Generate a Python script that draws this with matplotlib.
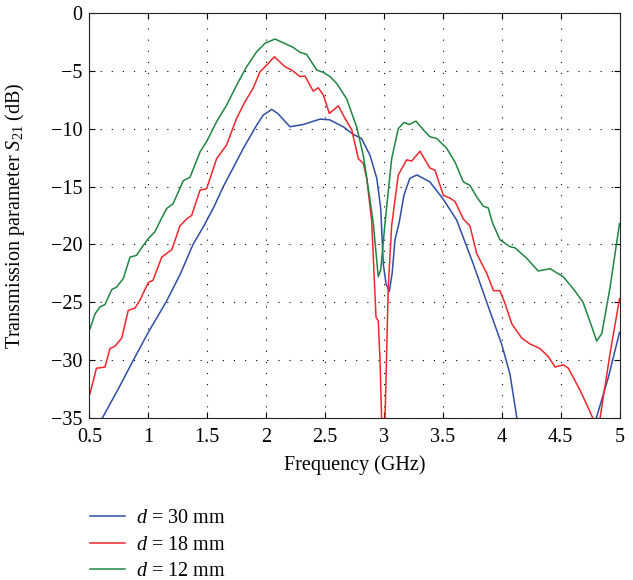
import matplotlib
matplotlib.use("Agg")
import matplotlib.pyplot as plt

plt.rcParams['font.family'] = ['Liberation Serif', 'DejaVu Serif']
plt.rcParams['mathtext.fontset'] = 'custom'
plt.rcParams['mathtext.rm'] = 'Liberation Serif'
plt.rcParams['mathtext.it'] = 'Liberation Serif:italic'

# ---- data (frequency in GHz, S21 in dB) ----
f_30 = [0.50, 0.61, 0.75, 0.873, 1.0, 1.15, 1.27, 1.38, 1.475, 1.56, 1.637, 1.72, 1.807,
        1.92, 1.976, 2.048, 2.10, 2.203, 2.316, 2.458, 2.54, 2.655, 2.74, 2.81, 2.882,
        2.94, 2.973, 2.995, 3.018, 3.046, 3.07, 3.094, 3.13, 3.17, 3.22, 3.28, 3.39,
        3.50, 3.618, 3.759, 3.873, 3.999, 4.07, 4.127, 4.16, 4.77, 4.806, 4.905, 5.0]
s_30 = [-37.1, -35.0, -32.4, -30.0, -27.6, -25.0, -22.6, -20.0, -18.35, -16.7, -15.0, -13.4, -11.7,
        -9.7, -8.83, -8.34, -8.7, -9.84, -9.64, -9.18, -9.24, -9.84, -10.5, -10.85, -12.3,
        -14.3, -16.9, -21.7, -23.4, -24.06, -22.5, -19.6, -18.1, -15.75, -14.3, -14.0, -14.6,
        -16.04, -17.9, -21.7, -25.0, -28.6, -31.2, -34.9, -37.0, -37.0, -34.9, -31.5, -27.6]

f_18 = [0.505, 0.56, 0.632, 0.675, 0.717, 0.774, 0.83, 0.887, 0.93, 1.0, 1.04, 1.114, 1.2,
        1.269, 1.326, 1.368, 1.44, 1.495, 1.58, 1.665, 1.75, 1.82, 1.89, 1.948, 2.019,
        2.07, 2.16, 2.217, 2.288, 2.33, 2.40, 2.443, 2.486, 2.537, 2.613, 2.67, 2.727,
        2.783, 2.825, 2.854, 2.896, 2.933, 2.952, 2.967, 2.98, 2.992, 3.002, 3.01, 3.037,
        3.066, 3.122, 3.193, 3.236, 3.306, 3.39, 3.434, 3.504, 3.56, 3.604, 3.674, 3.73,
        3.788, 3.873, 3.93, 3.985, 4.028, 4.085, 4.17, 4.24, 4.325, 4.396, 4.453, 4.523,
        4.566, 4.665, 4.72, 4.773, 4.80, 4.835, 4.92, 5.0]
s_18 = [-32.9, -30.7, -30.6, -29.0, -28.8, -28.1, -25.7, -25.5, -24.8, -23.3, -23.1, -21.1, -20.45,
        -18.4, -17.8, -17.5, -15.3, -15.2, -12.6, -11.4, -9.1, -7.7, -6.5, -5.1, -4.36,
        -3.79, -4.65, -4.94, -5.5, -5.46, -6.76, -6.47, -7.1, -8.69, -8.03, -9.12, -10.1,
        -12.6, -13.0, -14.3, -17.9, -26.3, -26.6, -30.0, -34.9, -40.0, -40.0, -34.9, -23.7,
        -18.35, -14.0, -12.7, -12.8, -11.95, -13.4, -13.6, -15.75, -16.0, -16.3, -17.8, -18.4,
        -20.8, -22.5, -24.0, -24.0, -25.1, -26.85, -28.1, -28.6, -29.0, -29.7, -30.6, -30.4,
        -30.7, -32.6, -33.8, -35.0, -36.5, -35.0, -29.4, -24.7]

f_12 = [0.505, 0.548, 0.59, 0.632, 0.69, 0.73, 0.788, 0.845, 0.9, 0.957, 1.0, 1.057, 1.105,
        1.156, 1.21, 1.297, 1.354, 1.44, 1.496, 1.58, 1.665, 1.75, 1.835, 1.92, 1.99,
        2.076, 2.175, 2.23, 2.288, 2.344, 2.43, 2.486, 2.542, 2.6, 2.685, 2.77, 2.825,
        2.88, 2.91, 2.952, 2.973, 3.01, 3.066, 3.122, 3.17, 3.216, 3.272, 3.335, 3.39,
        3.448, 3.533, 3.604, 3.674, 3.73, 3.788, 3.844, 3.886, 3.92, 3.985, 4.07, 4.113,
        4.212, 4.31, 4.41, 4.523, 4.62, 4.69, 4.764, 4.806, 4.85, 4.92, 5.0]
s_12 = [-27.3, -26.0, -25.4, -25.2, -23.9, -23.7, -22.95, -21.1, -20.95, -20.1, -19.5, -18.9, -17.9,
        -16.9, -16.5, -14.5, -14.2, -12.0, -11.1, -9.4, -7.97, -6.24, -4.65, -3.36, -2.63,
        -2.26, -2.72, -2.98, -3.41, -3.58, -4.94, -5.14, -5.5, -6.1, -7.45, -9.9, -12.3,
        -16.0, -18.2, -22.8, -22.2, -18.1, -12.6, -10.0, -9.47, -9.64, -9.35, -10.1, -10.7,
        -10.85, -11.7, -12.9, -14.6, -14.9, -15.9, -16.7, -16.85, -18.1, -19.6, -20.2, -20.3,
        -21.2, -22.3, -22.1, -22.8, -24.0, -25.0, -27.1, -28.35, -27.7, -23.7, -18.2]

labels = ["$d$ = 30 mm", "$d$ = 18 mm", "$d$ = 12 mm"]
colors = ["#2f4fa6", "#f2262b", "#1f8543"]

x_ticks = [0.5, 1, 1.5, 2, 2.5, 3, 3.5, 4, 4.5, 5]
x_ticklabels = ["0.5", "1", "1.5", "2", "2.5", "3", "3.5", "4", "4.5", "5"]
y_ticks = [0, -5, -10, -15, -20, -25, -30, -35]

FS = 14.5

fig = plt.figure(figsize=(6.33, 5.80), dpi=100)
ax = fig.add_axes([0.1412, 0.2793, 0.8375, 0.6985])

lines = []
for fx, sy, lab, c in zip([f_30, f_18, f_12], [s_30, s_18, s_12], labels, colors):
    ln, = ax.plot(fx, sy, color=c, lw=1.1, label=lab)
    lines.append(ln)

ax.set_xlim(0.5, 5)
ax.set_ylim(-35, 0)
ax.set_xticks(x_ticks)
ax.set_xticklabels(x_ticklabels)
ax.set_yticks(y_ticks)
ax.set_yticklabels([("\u2212%d" % -v) if v < 0 else "0" for v in y_ticks])
ax.tick_params(direction='in', top=True, right=True, labelsize=FS, length=4, width=0.8)
ax.tick_params(axis='x', pad=7)
ax.tick_params(axis='y', pad=5)
ax.grid(True, color='black', linestyle=(0, (1, 9)), linewidth=0.8)
for s in ax.spines.values():
    s.set_color('#222222')
    s.set_linewidth(0.8)

ax.set_xlabel("Frequency (GHz)", fontsize=FS)
ax.set_ylabel("Transmission parameter $S_{21}$ (dB)", fontsize=FS)
ax.xaxis.set_label_coords(0.5, -0.093)
ax.yaxis.set_label_coords(-0.118, 0.5)

fig.legend(handles=lines, labels=labels, loc='upper left', bbox_to_anchor=(0.142, 0.122),
           frameon=False, fontsize=FS, handlelength=1.74, handletextpad=0.55, labelspacing=0.36,
           borderaxespad=0, borderpad=0)

fig.savefig("out.png", dpi=100)
